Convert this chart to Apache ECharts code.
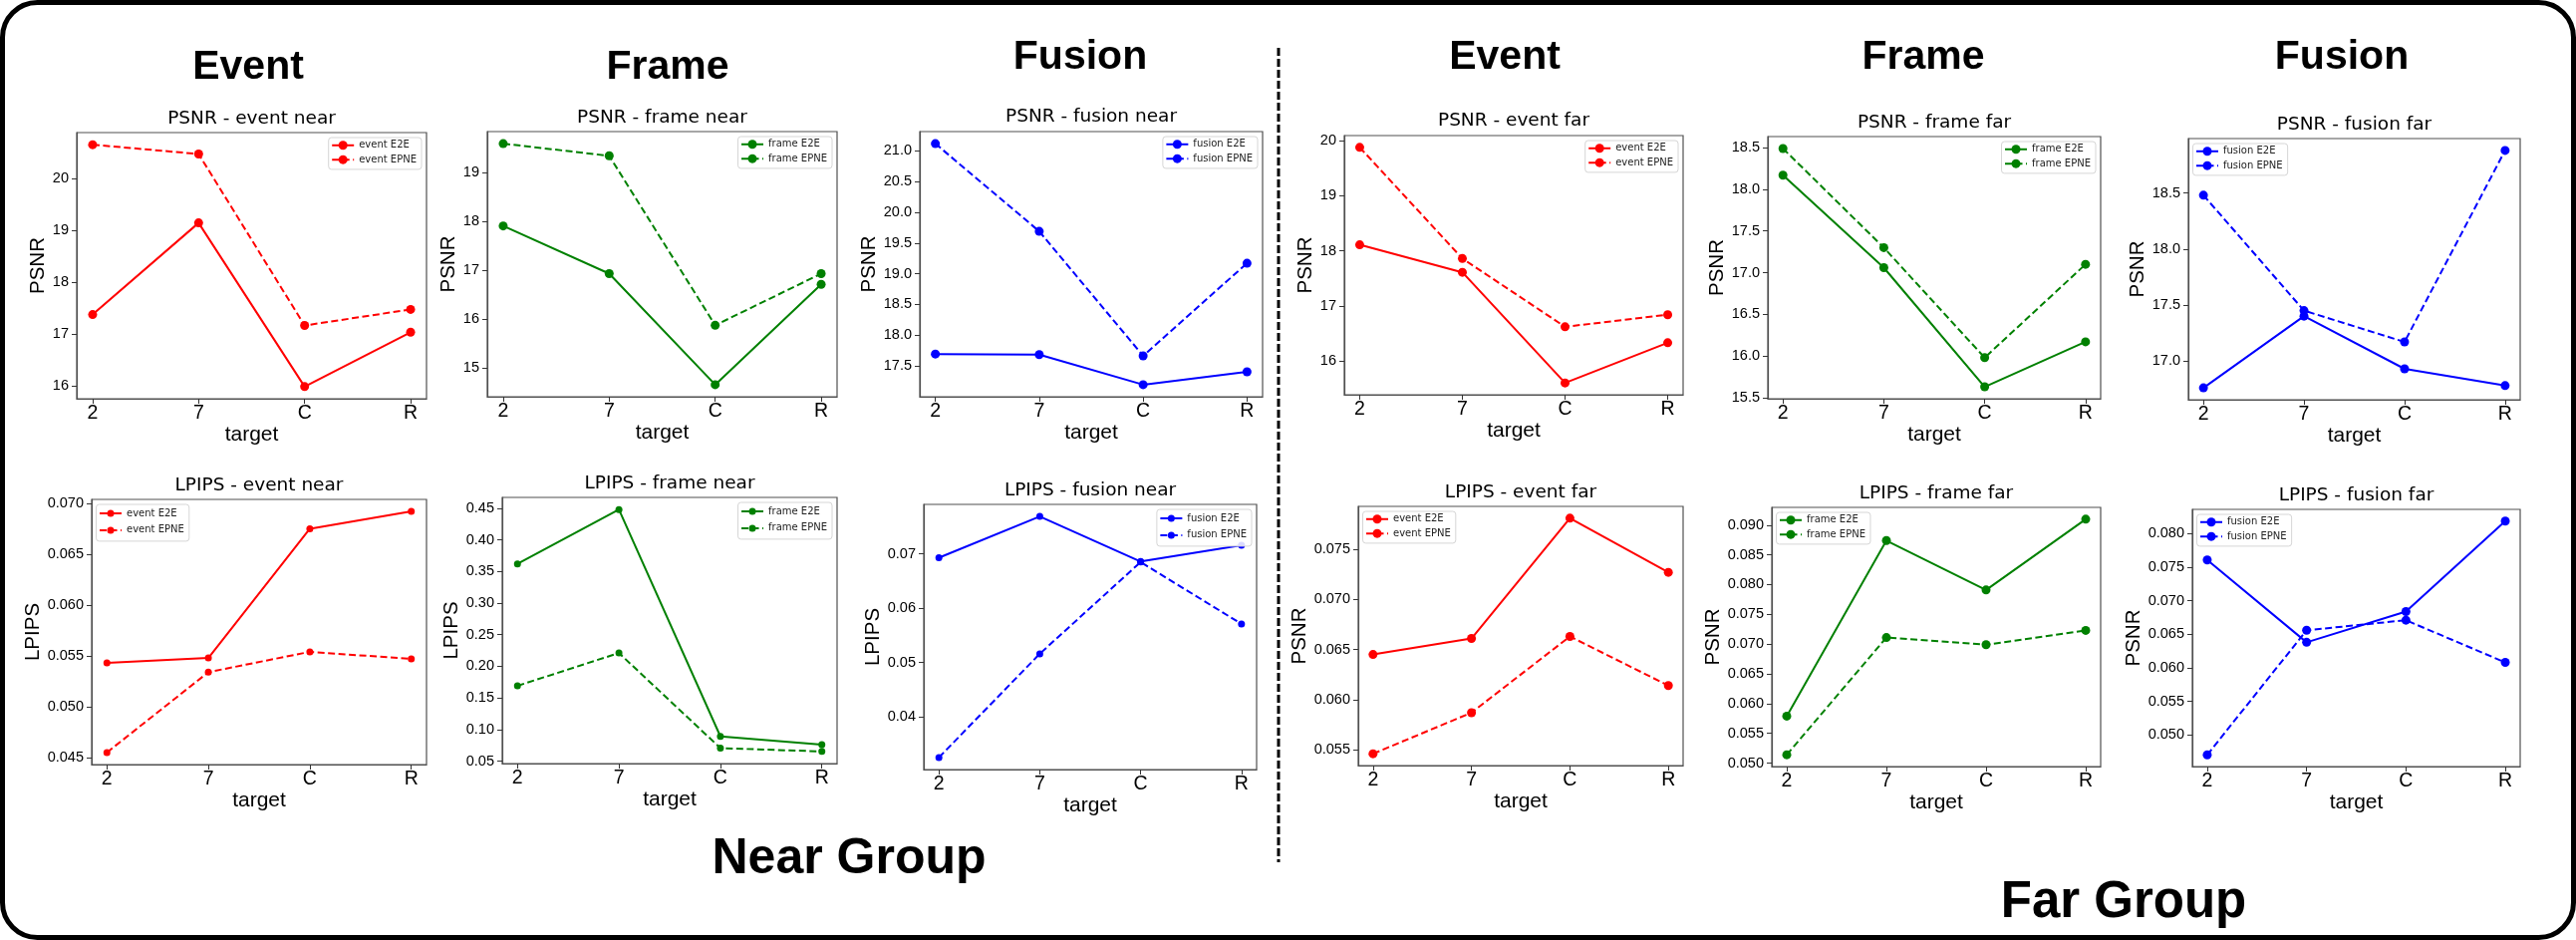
<!DOCTYPE html>
<html>
<head>
<meta charset="utf-8">
<script src="https://cdn.jsdelivr.net/npm/echarts@6.0.0/dist/echarts.min.js"></script>
<style>
html, body { margin: 0; padding: 0; background: #fff; }
#chart { width: 2585px; height: 943px; }
</style>
</head>
<body>
<div id="chart"></div>
<script>
// x categories
var targets = ['2', '7', 'C', 'R'];

// PSNR values
var psnrEventNearE2E   = [17.37, 19.14, 15.98, 17.03];
var psnrEventNearEPNE  = [20.65, 20.47, 17.16, 17.47];
var psnrFrameNearE2E   = [17.91, 16.93, 14.65, 16.71];
var psnrFrameNearEPNE  = [19.60, 19.35, 15.87, 16.93];
var psnrFusionNearE2E  = [17.69, 17.68, 17.19, 17.40];
var psnrFusionNearEPNE = [21.12, 19.69, 17.66, 19.17];
var psnrEventFarE2E    = [18.11, 17.61, 15.60, 16.33];
var psnrEventFarEPNE   = [19.88, 17.86, 16.62, 16.84];
var psnrFrameFarE2E    = [18.17, 17.06, 15.63, 16.17];
var psnrFrameFarEPNE   = [18.49, 17.30, 15.98, 17.10];
var psnrFusionFarE2E   = [16.76, 17.40, 16.93, 16.78];
var psnrFusionFarEPNE  = [18.48, 17.45, 17.17, 18.88];

// LPIPS values
var lpipsEventNearE2E   = [0.0543, 0.0548, 0.0675, 0.0692];
var lpipsEventNearEPNE  = [0.0455, 0.0534, 0.0554, 0.0547];
var lpipsFrameNearE2E   = [0.362, 0.448, 0.089, 0.076];
var lpipsFrameNearEPNE  = [0.169, 0.221, 0.0705, 0.0652];
var lpipsFusionNearE2E  = [0.0693, 0.0769, 0.0686, 0.0716];
var lpipsFusionNearEPNE = [0.0325, 0.0516, 0.0685, 0.0571];
var lpipsEventFarE2E    = [0.0645, 0.0661, 0.0781, 0.0727];
var lpipsEventFarEPNE   = [0.0546, 0.0587, 0.0663, 0.0614];
var lpipsFrameFarE2E    = [0.0579, 0.0874, 0.0791, 0.0910];
var lpipsFrameFarEPNE   = [0.0514, 0.0711, 0.0699, 0.0723];
var lpipsFusionFarE2E   = [0.0761, 0.0638, 0.0684, 0.0819];
var lpipsFusionFarEPNE  = [0.0470, 0.0656, 0.0671, 0.0608];

// y tick labels
var ticksPsnrEventNear  = ['16', '17', '18', '19', '20'];
var ticksPsnrFrameNear  = ['15', '16', '17', '18', '19'];
var ticksPsnrFusionNear = ['17.5', '18.0', '18.5', '19.0', '19.5', '20.0', '20.5', '21.0'];
var ticksPsnrEventFar   = ['16', '17', '18', '19', '20'];
var ticksPsnrFrameFar   = ['15.5', '16.0', '16.5', '17.0', '17.5', '18.0', '18.5'];
var ticksPsnrFusionFar  = ['17.0', '17.5', '18.0', '18.5'];
var ticksLpipsEventNear  = ['0.045', '0.050', '0.055', '0.060', '0.065', '0.070'];
var ticksLpipsFrameNear  = ['0.05', '0.10', '0.15', '0.20', '0.25', '0.30', '0.35', '0.40', '0.45'];
var ticksLpipsFusionNear = ['0.04', '0.05', '0.06', '0.07'];
var ticksLpipsEventFar   = ['0.055', '0.060', '0.065', '0.070', '0.075'];
var ticksLpipsFrameFar   = ['0.050', '0.055', '0.060', '0.065', '0.070', '0.075', '0.080', '0.085', '0.090'];
var ticksLpipsFusionFar  = ['0.050', '0.055', '0.060', '0.065', '0.070', '0.075', '0.080'];

var panels = [
    {title: 'PSNR - event near',   ylabel: 'PSNR',  kind: 'event',  e2e: psnrEventNearE2E,   epne: psnrEventNearEPNE,   ticks: ticksPsnrEventNear},
    {title: 'PSNR - frame near',   ylabel: 'PSNR',  kind: 'frame',  e2e: psnrFrameNearE2E,   epne: psnrFrameNearEPNE,   ticks: ticksPsnrFrameNear},
    {title: 'PSNR - fusion near',  ylabel: 'PSNR',  kind: 'fusion', e2e: psnrFusionNearE2E,  epne: psnrFusionNearEPNE,  ticks: ticksPsnrFusionNear},
    {title: 'PSNR - event far',    ylabel: 'PSNR',  kind: 'event',  e2e: psnrEventFarE2E,    epne: psnrEventFarEPNE,    ticks: ticksPsnrEventFar},
    {title: 'PSNR - frame far',    ylabel: 'PSNR',  kind: 'frame',  e2e: psnrFrameFarE2E,    epne: psnrFrameFarEPNE,    ticks: ticksPsnrFrameFar},
    {title: 'PSNR - fusion far',   ylabel: 'PSNR',  kind: 'fusion', e2e: psnrFusionFarE2E,   epne: psnrFusionFarEPNE,   ticks: ticksPsnrFusionFar},
    {title: 'LPIPS - event near',  ylabel: 'LPIPS', kind: 'event',  e2e: lpipsEventNearE2E,  epne: lpipsEventNearEPNE,  ticks: ticksLpipsEventNear},
    {title: 'LPIPS - frame near',  ylabel: 'LPIPS', kind: 'frame',  e2e: lpipsFrameNearE2E,  epne: lpipsFrameNearEPNE,  ticks: ticksLpipsFrameNear},
    {title: 'LPIPS - fusion near', ylabel: 'LPIPS', kind: 'fusion', e2e: lpipsFusionNearE2E, epne: lpipsFusionNearEPNE, ticks: ticksLpipsFusionNear},
    {title: 'LPIPS - event far',   ylabel: 'PSNR',  kind: 'event',  e2e: lpipsEventFarE2E,   epne: lpipsEventFarEPNE,   ticks: ticksLpipsEventFar},
    {title: 'LPIPS - frame far',   ylabel: 'PSNR',  kind: 'frame',  e2e: lpipsFrameFarE2E,   epne: lpipsFrameFarEPNE,   ticks: ticksLpipsFrameFar},
    {title: 'LPIPS - fusion far',  ylabel: 'PSNR',  kind: 'fusion', e2e: lpipsFusionFarE2E,  epne: lpipsFusionFarEPNE,  ticks: ticksLpipsFusionFar}
];

var colors = {event: '#ff0000', frame: '#008000', fusion: '#0000ff'};

// layout of each panel: plot box [left, top, right, bottom], title centre y,
// legend corner, y name gap, marker size
var layout = [
    {box: [77, 133, 428, 400],    titleY: 119, legend: 'right', nameGap: 27,   marker: 9},
    {box: [489, 132, 840, 398],   titleY: 118, legend: 'right', nameGap: 27,   marker: 9},
    {box: [923, 132, 1267, 398],  titleY: 117, legend: 'right', nameGap: 39.5, marker: 9},
    {box: [1349, 136, 1689, 396], titleY: 121, legend: 'right', nameGap: 27,   marker: 9},
    {box: [1774, 137, 2108, 400], titleY: 123, legend: 'right', nameGap: 39.5, marker: 9},
    {box: [2196, 139, 2529, 401], titleY: 125, legend: 'left',  nameGap: 39.5, marker: 9},
    {box: [92, 501, 428, 767],    titleY: 487, legend: 'left',  nameGap: 47.5, marker: 7},
    {box: [504, 499, 840, 766],   titleY: 485, legend: 'right', nameGap: 39.5, marker: 7},
    {box: [927, 506, 1261, 772],  titleY: 492, legend: 'right', nameGap: 39.5, marker: 7},
    {box: [1363, 508, 1689, 768], titleY: 494, legend: 'left',  nameGap: 47.5, marker: 9},
    {box: [1778, 509, 2108, 769], titleY: 495, legend: 'left',  nameGap: 47.5, marker: 9},
    {box: [2200, 511, 2529, 769], titleY: 497, legend: 'left',  nameGap: 47.5, marker: 9}
];

var headers = [
    {text: 'Event',  x: 249,  y: 68},
    {text: 'Frame',  x: 670,  y: 68},
    {text: 'Fusion', x: 1084, y: 58},
    {text: 'Event',  x: 1510, y: 58},
    {text: 'Frame',  x: 1930, y: 58},
    {text: 'Fusion', x: 2350, y: 58}
];

var W = 2585;
var tickFont = 'Liberation Sans';
var titleFont = 'DejaVu Sans';

function tickFormatter(labels) {
    return function (v) {
        for (var k = 0; k < labels.length; k++) {
            if (Math.abs(Number(labels[k]) - v) < 1e-9) return labels[k];
        }
        return '';
    };
}

function centredText(text, x, y, font) {
    return {
        type: 'text', x: x, y: y, silent: true,
        style: {
            text: text, font: font, fill: '#000',
            align: 'center', verticalAlign: 'middle',
            textAlign: 'center', textVerticalAlign: 'middle'
        }
    };
}

var grids = [], xAxes = [], yAxes = [], series = [], legends = [], graphics = [];

panels.forEach(function (p, i) {
    var L = layout[i], b = L.box;
    var color = colors[p.kind];
    var tickVals = p.ticks.map(Number);

    grids.push({
        left: b[0], top: b[1], width: b[2] - b[0], height: b[3] - b[1],
        show: true, borderColor: '#505050', borderWidth: 1.2
    });

    xAxes.push({
        type: 'value', gridIndex: i, min: -0.15, max: 3.15,
        name: 'target', nameLocation: 'middle', nameGap: 25,
        nameTextStyle: {fontFamily: tickFont, fontSize: 21, color: '#000'},
        axisLine: {show: true, onZero: false, lineStyle: {color: '#505050', width: 1.2}},
        splitLine: {show: false},
        axisTick: {customValues: [0, 1, 2, 3], length: 5, lineStyle: {color: '#333'}},
        axisLabel: {
            customValues: [0, 1, 2, 3],
            formatter: function (v) { return targets[Math.round(v)]; },
            fontFamily: tickFont, fontSize: 19.5, color: '#000', margin: 5
        }
    });

    yAxes.push({
        type: 'value', gridIndex: i,
        // matplotlib style 5% margins around the data
        min: function (v) { return v.min - 0.05 * (v.max - v.min); },
        max: function (v) { return v.max + 0.05 * (v.max - v.min); },
        name: p.ylabel, nameLocation: 'middle', nameGap: L.nameGap, nameRotate: 90,
        nameTextStyle: {fontFamily: tickFont, fontSize: 20.5, color: '#000'},
        axisLine: {show: true, onZero: false, lineStyle: {color: '#505050', width: 1.2}},
        splitLine: {show: false},
        axisTick: {customValues: tickVals, length: 5, lineStyle: {color: '#333'}},
        axisLabel: {
            customValues: tickVals,
            formatter: tickFormatter(p.ticks),
            fontFamily: tickFont, fontSize: 14.5, color: '#000', margin: 8
        }
    });

    series.push({
        name: p.kind + ' E2E', type: 'line', xAxisIndex: i, yAxisIndex: i,
        data: p.e2e.map(function (v, k) { return [k, v]; }),
        symbol: 'circle', symbolSize: L.marker, showSymbol: true,
        itemStyle: {color: color},
        lineStyle: {color: color, width: 2},
        silent: true
    });
    series.push({
        name: p.kind + ' EPNE', type: 'line', xAxisIndex: i, yAxisIndex: i,
        data: p.epne.map(function (v, k) { return [k, v]; }),
        symbol: 'circle', symbolSize: L.marker, showSymbol: true,
        itemStyle: {color: color},
        lineStyle: {color: color, width: 2, type: [7, 3.5]},
        silent: true
    });

    // legend icon marker is 80% of itemHeight, so size it from the marker
    var ih = L.marker / 0.8;
    var leg = {
        data: [p.kind + ' E2E', p.kind + ' EPNE'],
        orient: 'vertical', top: b[1] + 5,
        itemWidth: 22, itemHeight: ih, itemGap: 15.6 - ih,
        padding: [8.4 - ih / 2, 5, 10.4 - ih / 2, 2.5],
        borderColor: '#d6d6d6', borderWidth: 1, borderRadius: 3,
        backgroundColor: 'rgba(255,255,255,0.85)',
        selectedMode: false,
        textStyle: {fontFamily: titleFont, fontSize: 10, color: '#222'}
    };
    if (L.legend === 'right') leg.right = W - (b[2] - 5);
    else leg.left = b[0] + 4.5;
    legends.push(leg);

    graphics.push(centredText(p.title, (b[0] + b[2]) / 2, L.titleY, '18.5px "' + titleFont + '"'));
});

headers.forEach(function (h) {
    graphics.push(centredText(h.text, h.x, h.y, 'bold 41px "Liberation Sans"'));
});
graphics.push(centredText('Near Group', 852, 862, 'bold 50px "Liberation Sans"'));
graphics.push(centredText('Far Group', 2131, 906, 'bold 51px "Liberation Sans"'));

// separator between the two groups
graphics.push({
    type: 'line', silent: true,
    shape: {x1: 1283, y1: 48, x2: 1283, y2: 865},
    style: {stroke: '#000', lineWidth: 3, lineDash: [8, 3]}
});
// rounded frame around everything
graphics.push({
    type: 'rect', silent: true,
    shape: {x: 2.5, y: 2.5, width: 2580, height: 938, r: 35},
    style: {fill: 'transparent', stroke: '#000', lineWidth: 5}
});

var myChart = echarts.init(document.getElementById('chart'));
myChart.setOption({
    animation: false,
    backgroundColor: '#fff',
    grid: grids,
    xAxis: xAxes,
    yAxis: yAxes,
    legend: legends,
    series: series,
    graphic: {elements: graphics}
});
</script>
</body>
</html>
